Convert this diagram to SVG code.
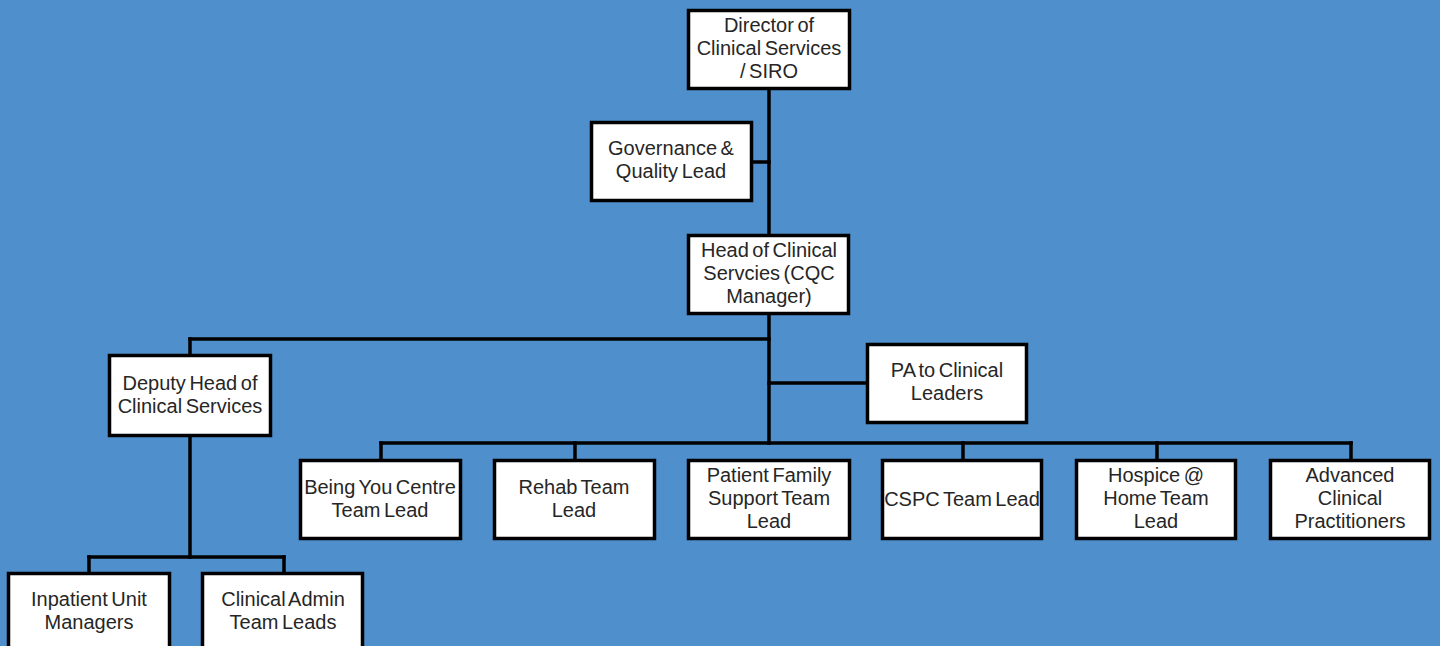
<svg xmlns="http://www.w3.org/2000/svg" width="1440" height="646" viewBox="0 0 1440 646">
<style>
.bg{fill:#4f8fcb}
.box{fill:#ffffff;stroke:#000000;stroke-width:3.5}
.ln{fill:none;stroke:#000000;stroke-width:3.5;stroke-linecap:square}
text{font-family:"Liberation Sans",Arial,sans-serif;font-size:20px;word-spacing:-2px;fill:#262626;text-anchor:middle}
</style>
<rect class="bg" x="0" y="0" width="1440" height="646"/>
<g id="connectors">
<path class="ln" d="M769 90 V443"/>
<path class="ln" d="M753 162 H769"/>
<path class="ln" d="M190 339 H769"/>
<path class="ln" d="M190 339 V355"/>
<path class="ln" d="M769 383 H866"/>
<path class="ln" d="M381 443 H1351"/>
<path class="ln" d="M381 443 V459"/>
<path class="ln" d="M575 443 V459"/>
<path class="ln" d="M963 443 V459"/>
<path class="ln" d="M1157 443 V459"/>
<path class="ln" d="M1351 443 V459"/>
<path class="ln" d="M190 437 V557"/>
<path class="ln" d="M89 557 H284"/>
<path class="ln" d="M89 557 V573"/>
<path class="ln" d="M284 557 V573"/>
</g>
<g id="director">
<rect class="box" x="688.5" y="10.5" width="161" height="78"/>
<text x="769" y="32">Director of</text>
<text x="769" y="55">Clinical Services</text>
<text x="769" y="78">/ SIRO</text>
</g>
<g id="governance">
<rect class="box" x="591.5" y="122.5" width="160" height="78"/>
<text x="671" y="155">Governance &amp;</text>
<text x="671" y="178">Quality Lead</text>
</g>
<g id="head">
<rect class="box" x="688.5" y="235.5" width="160" height="78"/>
<text x="769" y="257">Head of Clinical</text>
<text x="769" y="280">Servcies (CQC</text>
<text x="769" y="303">Manager)</text>
</g>
<g id="deputy">
<rect class="box" x="109.5" y="355.5" width="161" height="80"/>
<text x="190" y="390">Deputy Head of</text>
<text x="190" y="413">Clinical Services</text>
</g>
<g id="pa">
<rect class="box" x="867.5" y="344.5" width="159" height="78"/>
<text x="947" y="377">PA to Clinical</text>
<text x="947" y="400">Leaders</text>
</g>
<g id="being-you">
<rect class="box" x="300.5" y="460.5" width="160" height="78"/>
<text x="380" y="494">Being You Centre</text>
<text x="380" y="517">Team Lead</text>
</g>
<g id="rehab">
<rect class="box" x="494.5" y="460.5" width="160" height="78"/>
<text x="574" y="494">Rehab Team</text>
<text x="574" y="517">Lead</text>
</g>
<g id="pfs">
<rect class="box" x="688.5" y="460.5" width="161" height="78"/>
<text x="769" y="482">Patient Family</text>
<text x="769" y="505">Support Team</text>
<text x="769" y="528">Lead</text>
</g>
<g id="cspc">
<rect class="box" x="882.5" y="460.5" width="159" height="78"/>
<text x="962" y="506">CSPC Team Lead</text>
</g>
<g id="hospice">
<rect class="box" x="1076.5" y="460.5" width="159" height="78"/>
<text x="1156" y="482">Hospice @</text>
<text x="1156" y="505">Home Team</text>
<text x="1156" y="528">Lead</text>
</g>
<g id="acp">
<rect class="box" x="1270.5" y="460.5" width="159" height="78"/>
<text x="1350" y="482">Advanced</text>
<text x="1350" y="505">Clinical</text>
<text x="1350" y="528">Practitioners</text>
</g>
<g id="inpatient">
<rect class="box" x="8.5" y="573.5" width="161" height="80"/>
<text x="89" y="606">Inpatient Unit</text>
<text x="89" y="629">Managers</text>
</g>
<g id="clinical-admin">
<rect class="box" x="202.5" y="573.5" width="160" height="80"/>
<text x="283" y="606">Clinical Admin</text>
<text x="283" y="629">Team Leads</text>
</g>
</svg>
